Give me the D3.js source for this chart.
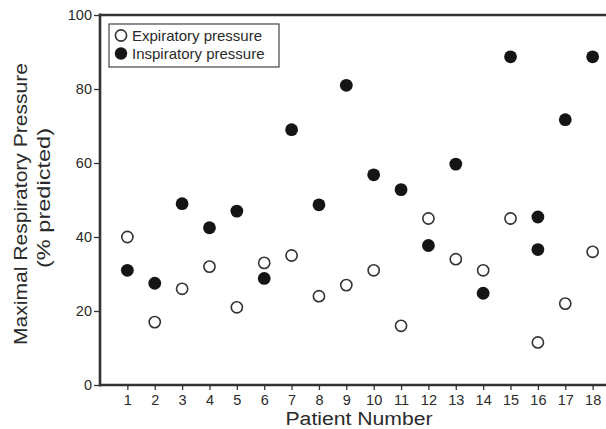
<!DOCTYPE html>
<html>
<head>
<meta charset="utf-8">
<script src="https://cdn.jsdelivr.net/npm/d3@7"></script>
<style>
  body { margin: 0; background: #fff; }
  svg text { font-family: "Liberation Sans", Arial, sans-serif; fill: #2a2a2a; }
</style>
</head>
<body>
<div id="chart"></div>
<script>
// patients and values
var patients = [1,2,3,4,5,6,7,8,9,10,11,12,13,14,15,16,17,18];
var expiratory = [40,17,26,32,21,33,35,24,27,31,16,45,34,31,45,11.5,22,36];
// patient 16 has two inspiratory readings
var inspPatients = [1,2,3,4,5,6,7,8,9,10,11,12,13,14,15,16,16,17,18];
var inspiratory = [31,27.5,49,42.5,47,28.8,69,48.7,81,56.8,52.8,37.7,59.7,24.8,88.7,45.4,36.6,71.7,88.7];
var yTicks = [0,20,40,60,80,100];

var width = 606, height = 429;
var margin = {top: 15, left: 100, bottom: 44};
var plotH = height - margin.top - margin.bottom;

var svg = d3.select("#chart").append("svg")
  .attr("width", width)
  .attr("height", height);

var x = d3.scaleLinear().domain([0, 19]).range([margin.left, 620]);
var y = d3.scaleLinear().domain([0, 100]).range([margin.top + plotH, margin.top]);

// axes
var yAxis = svg.append("g")
  .attr("transform", "translate(" + margin.left + ",0)")
  .call(d3.axisLeft(y).tickValues(yTicks).tickSize(6).tickPadding(2));
var xAxis = svg.append("g")
  .attr("transform", "translate(0," + y(0) + ")")
  .call(d3.axisBottom(x).tickValues(patients).tickSize(5).tickPadding(5));

[yAxis, xAxis].forEach(function(a) {
  a.select(".domain").remove();
  a.selectAll(".tick line").attr("stroke", "#333").attr("stroke-width", 1.3);
  a.selectAll(".tick text").style("font-size", "14.5px").attr("fill", "#2a2a2a");
});

// frame: left, bottom, top
svg.append("line").attr("x1", x(0)).attr("x2", x(0)).attr("y1", y(100) - 1.5).attr("y2", y(0) + 1.5)
  .attr("stroke", "#333").attr("stroke-width", 2.6);
svg.append("line").attr("x1", x(0)).attr("x2", width).attr("y1", y(0)).attr("y2", y(0))
  .attr("stroke", "#333").attr("stroke-width", 2.6);
svg.append("line").attr("x1", x(0)).attr("x2", width).attr("y1", y(100)).attr("y2", y(100))
  .attr("stroke", "#333").attr("stroke-width", 2.6);

// points
svg.append("g").selectAll("circle")
  .data(patients)
  .enter().append("circle")
  .attr("cx", function(d) { return x(d); })
  .attr("cy", function(d, i) { return y(expiratory[i]); })
  .attr("r", 5.6)
  .attr("fill", "#fff")
  .attr("stroke", "#333")
  .attr("stroke-width", 1.6);

svg.append("g").selectAll("circle")
  .data(inspPatients)
  .enter().append("circle")
  .attr("cx", function(d) { return x(d); })
  .attr("cy", function(d, i) { return y(inspiratory[i]); })
  .attr("r", 6.4)
  .attr("fill", "#151515");

// legend
var lg = svg.append("g").attr("transform", "translate(109,24)");
lg.append("rect").attr("width", 170).attr("height", 43)
  .attr("fill", "#fff").attr("stroke", "#444").attr("stroke-width", 1.2);
lg.append("circle").attr("cx", 12).attr("cy", 11.5).attr("r", 5.6)
  .attr("fill", "#fff").attr("stroke", "#333").attr("stroke-width", 1.6);
lg.append("circle").attr("cx", 12).attr("cy", 29.5).attr("r", 6.2).attr("fill", "#151515");
lg.append("text").attr("x", 23).attr("y", 16.5).style("font-size", "15px").text("Expiratory pressure");
lg.append("text").attr("x", 23).attr("y", 34.5).style("font-size", "15px").text("Inspiratory pressure");

// axis titles
svg.append("text")
  .attr("x", 359).attr("y", 425)
  .attr("text-anchor", "middle")
  .style("font-size", "18px")
  .attr("textLength", 147)
  .attr("lengthAdjust", "spacingAndGlyphs")
  .text("Patient Number");

svg.append("text")
  .attr("transform", "translate(27,204) rotate(-90)")
  .attr("text-anchor", "middle")
  .style("font-size", "19px")
  .attr("textLength", 282)
  .attr("lengthAdjust", "spacingAndGlyphs")
  .text("Maximal Respiratory Pressure");
svg.append("text")
  .attr("transform", "translate(50,198) rotate(-90)")
  .attr("text-anchor", "middle")
  .style("font-size", "19px")
  .attr("textLength", 140)
  .attr("lengthAdjust", "spacingAndGlyphs")
  .text("(% predicted)");
</script>
</body>
</html>
